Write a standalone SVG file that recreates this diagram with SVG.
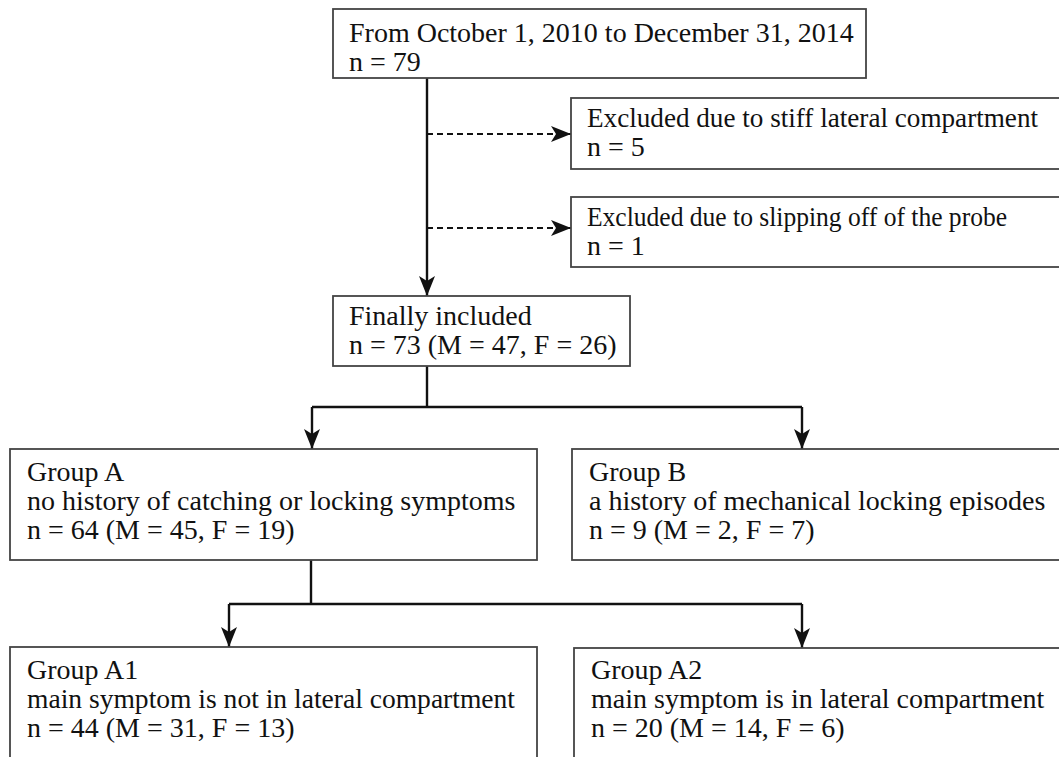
<svg xmlns="http://www.w3.org/2000/svg" width="1059" height="757" viewBox="0 0 1059 757">
<style>
.box{fill:#fff;stroke:#444;stroke-width:1.8}
.t{font-family:"Liberation Serif","Times New Roman",serif;font-size:28px;fill:#111}
.ln{fill:none;stroke:#111;stroke-width:2.4}
.dash{fill:none;stroke:#111;stroke-width:2.2;stroke-dasharray:6 4}
</style>
<defs>
<marker id="ah" viewBox="0 0 20 16" refX="20" refY="8" markerWidth="20" markerHeight="16" markerUnits="userSpaceOnUse" orient="auto">
<path d="M0,0 L20,8 L0,16 L5,8 Z" fill="#111"/>
</marker>
</defs>
<rect width="1059" height="757" fill="#fff"/>
<g id="connectors">
<path class="ln" d="M427,78 V296" marker-end="url(#ah)"/>
<path class="dash" d="M427,134 H571" marker-end="url(#ah)"/>
<path class="dash" d="M427,228 H571" marker-end="url(#ah)"/>
<path class="ln" d="M427,366 V407"/>
<path class="ln" d="M312,407 H802"/>
<path class="ln" d="M312,407 V449" marker-end="url(#ah)"/>
<path class="ln" d="M802,407 V449" marker-end="url(#ah)"/>
<path class="ln" d="M311,560 V604"/>
<path class="ln" d="M229,604 H802"/>
<path class="ln" d="M229,604 V647" marker-end="url(#ah)"/>
<path class="ln" d="M802,604 V648" marker-end="url(#ah)"/>
</g>
<g id="start">
<rect class="box" x="333" y="9" width="533" height="69"/>
<text class="t" x="349" y="42">From October 1, 2010 to December 31, 2014</text>
<text class="t" x="349" y="71">n = 79</text>
</g>
<g id="excluded1">
<rect class="box" x="571" y="98" width="500" height="71"/>
<text class="t" x="587" y="127" textLength="451" lengthAdjust="spacingAndGlyphs">Excluded due to stiff lateral compartment</text>
<text class="t" x="587" y="156">n = 5</text>
</g>
<g id="excluded2">
<rect class="box" x="571" y="197" width="500" height="70"/>
<text class="t" x="587" y="226" textLength="420" lengthAdjust="spacingAndGlyphs">Excluded due to slipping off of the probe</text>
<text class="t" x="587" y="255">n = 1</text>
</g>
<g id="included">
<rect class="box" x="333" y="296" width="297" height="70"/>
<text class="t" x="349" y="325">Finally included</text>
<text class="t" x="349" y="354">n = 73 (M = 47, F = 26)</text>
</g>
<g id="groupA">
<rect class="box" x="10" y="449" width="527" height="111"/>
<text class="t" x="27" y="481">Group A</text>
<text class="t" x="27" y="510">no history of catching or locking symptoms</text>
<text class="t" x="27" y="539">n = 64 (M = 45, F = 19)</text>
</g>
<g id="groupB">
<rect class="box" x="572" y="449" width="500" height="111"/>
<text class="t" x="589" y="481">Group B</text>
<text class="t" x="589" y="510">a history of mechanical locking episodes</text>
<text class="t" x="589" y="539">n = 9 (M = 2, F = 7)</text>
</g>
<g id="groupA1">
<rect class="box" x="10" y="647" width="527" height="130"/>
<text class="t" x="27" y="679">Group A1</text>
<text class="t" x="27" y="708" textLength="488" lengthAdjust="spacingAndGlyphs">main symptom is not in lateral compartment</text>
<text class="t" x="27" y="737">n = 44 (M = 31, F = 13)</text>
</g>
<g id="groupA2">
<rect class="box" x="574" y="648" width="500" height="130"/>
<text class="t" x="591" y="679">Group A2</text>
<text class="t" x="591" y="708">main symptom is in lateral compartment</text>
<text class="t" x="591" y="737">n = 20 (M = 14, F = 6)</text>
</g>
</svg>
